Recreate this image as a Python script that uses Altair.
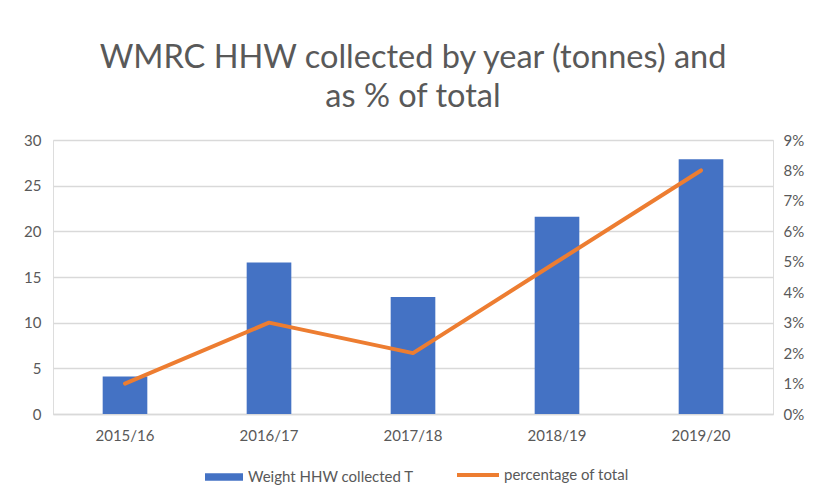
import altair as alt
import pandas as pd

years = ["2015/16", "2016/17", "2017/18", "2018/19", "2019/20"]
weights = [4.1, 16.6, 12.8, 21.6, 27.9]
pct = [0.01, 0.03, 0.02, 0.05, 0.08]

bar_name = "Weight HHW collected T"
line_name = "percentage of total"

df = pd.DataFrame({"year": years, "weight": weights, "pct": pct})

FONT = "Lato"
GREY = "#595959"
BLUE = "#4472C4"
ORANGE = "#ED7D31"

x_enc = alt.X(
    "year:N",
    sort=years,
    scale=alt.Scale(paddingInner=0.69, paddingOuter=0.345),
    axis=alt.Axis(
        title=None, labelAngle=0, domain=True, domainColor="#d9d9d9", domainWidth=1.5,
        ticks=False, labelPadding=14, labelFontSize=15, labelColor=GREY, labelFont=FONT,
    ),
)

bars = (
    alt.Chart(df)
    .transform_calculate(series=f"'{bar_name}'")
    .mark_bar()
    .encode(
        x=x_enc,
        y=alt.Y(
            "weight:Q",
            scale=alt.Scale(domain=[0, 30], nice=False),
            axis=alt.Axis(
                title=None, values=[0, 5, 10, 15, 20, 25, 30], domain=False, ticks=False,
                grid=True, gridColor="#d9d9d9", gridWidth=1.5, labelPadding=12,
                labelFontSize=15, labelColor=GREY, labelFont=FONT,
            ),
        ),
        fill=alt.Fill(
            "series:N",
            scale=alt.Scale(domain=[bar_name], range=[BLUE]),
            legend=alt.Legend(
                title=None, orient="none", legendX=152, legendY=318,
                direction="horizontal",
                labelFontSize=15, labelColor=GREY, labelFont=FONT, labelLimit=400,
                symbolType="M-1,-0.2H1V0.2H-1Z", symbolSize=1444, symbolOpacity=1,
                symbolStrokeWidth=0, labelOffset=5,
            ),
        ),
    )
)

line = (
    alt.Chart(df)
    .transform_calculate(series=f"'{line_name}'")
    .mark_line(strokeWidth=4, strokeCap="round", strokeJoin="round")
    .encode(
        x=x_enc,
        y=alt.Y(
            "pct:Q",
            scale=alt.Scale(domain=[0, 0.09], nice=False),
            axis=alt.Axis(
                title=None, orient="right", format=".0%",
                values=[0, 0.01, 0.02, 0.03, 0.04, 0.05, 0.06, 0.07, 0.08, 0.09],
                domain=False, ticks=False, grid=False, labelPadding=10,
                labelFontSize=15, labelColor=GREY, labelFont=FONT,
            ),
        ),
        stroke=alt.Stroke(
            "series:N",
            scale=alt.Scale(domain=[line_name], range=[ORANGE]),
            legend=alt.Legend(
                title=None, orient="none", legendX=402, legendY=312,
                direction="horizontal",
                labelFontSize=15, labelColor=GREY, labelFont=FONT, labelLimit=400,
                symbolType="stroke", symbolSize=1764, symbolStrokeWidth=4,
                symbolOpacity=1, labelOffset=3,
            ),
        ),
    )
)

chart = (
    alt.layer(bars, line)
    .resolve_scale(y="independent")
    .properties(
        width=720,
        height=274,
        autosize=alt.AutoSizeParams(type="none"),
        padding={"left": 45, "top": 132, "right": 36, "bottom": 73},
        title=alt.TitleParams(
            text=["WMRC HHW collected by year (tonnes) and", "as % of total"],
            fontSize=32.5, font=FONT, fontWeight="normal", color=GREY,
            lineHeight=39, anchor="middle", offset=20,
        ),
    )
    .configure_view(stroke=None)
    .configure(background="white")
)

chart.save("out.html", embed_options={"renderer": "svg", "actions": False})
